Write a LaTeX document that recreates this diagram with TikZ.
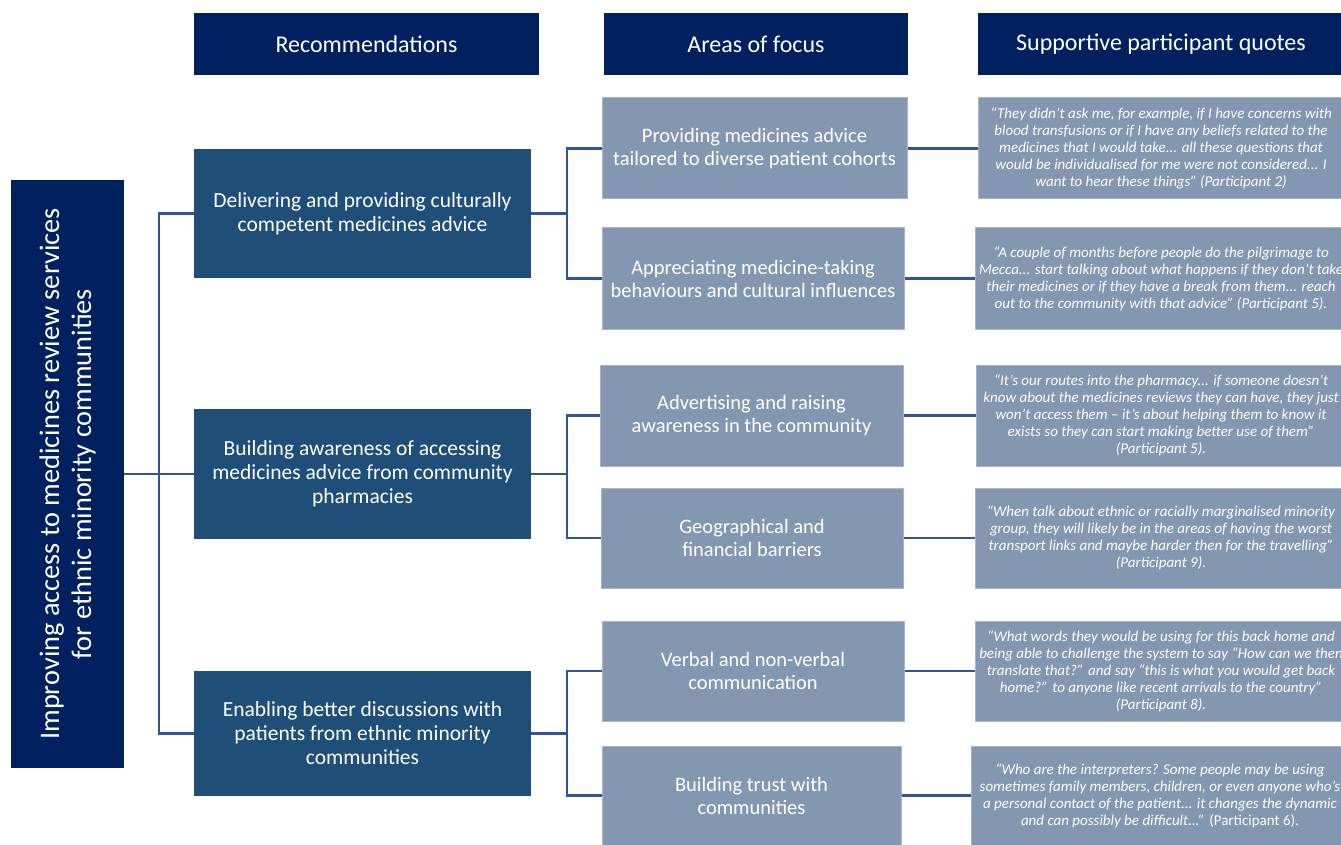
\documentclass[tikz,border=0pt]{standalone}
\usepackage{fontspec}
\setmainfont{Carlito}
\usetikzlibrary{calc}
\definecolor{navy}{HTML}{002060}
\definecolor{recblue}{HTML}{1F4E79}
\definecolor{areablue}{HTML}{8497B0}
\definecolor{edgeblue}{HTML}{A7B5CA}
\definecolor{linkblue}{HTML}{2F5597}
\tikzset{
  hdr/.style={fill=navy, text=white, minimum height=62pt, inner sep=0pt, font=\fontsize{24}{28}\selectfont},
  recbox/.style={fill=recblue, text=white, minimum width=337pt, inner sep=0pt, align=center, font=\fontsize{21.5}{24}\selectfont},
  areabox/.style={fill=areablue, draw=edgeblue, line width=1pt, text=white, inner sep=0pt, align=center, font=\fontsize{20.5}{23}\selectfont},
  quotebox/.style={fill=areablue, draw=edgeblue, line width=1pt, text=white, inner sep=0pt, align=center, font=\fontsize{15}{17}\selectfont\itshape},
  link/.style={draw=linkblue, line width=2.2pt},
}
\begin{document}
\begin{tikzpicture}[x=1pt,y=-1pt]
\useasboundingbox (0,0) rectangle (1341,845);
\clip (0,0) rectangle (1341,845);
% main
\node[fill=navy, text=white, rotate=90, minimum width=588pt, minimum height=113pt, inner sep=0pt, align=center, font=\fontsize{28.3}{32}\selectfont] (M) at (67.5,474) {Improving access to medicines review services\\for ethnic minority communities};
% headers
\node[hdr, minimum width=345pt] (H1) at (366.5,44) {Recommendations};
\node[hdr, minimum width=304pt] (H2) at (756,44) {Areas of focus};
\node[hdr, minimum width=366pt] (H3) at (1161,44) {Supportive participant quotes};
% recommendations
\node[recbox, minimum height=129pt] (R1) at (362.5,213.5) {Delivering and providing culturally\\competent medicines advice};
\node[recbox, minimum height=130pt] (R2) at (362.5,474) {Building awareness of accessing\\medicines advice from community\\pharmacies};
\node[recbox, minimum height=125pt] (R3) at (362.5,733.5) {Enabling better discussions with\\patients from ethnic minority\\communities};
% areas
\node[areabox, minimum width=305pt, minimum height=101pt] (A1) at (754.5,148.5) {Providing medicines advice\\tailored to diverse patient cohorts};
\node[areabox, minimum width=302pt, minimum height=101pt] (A2) at (753,278.5) {Appreciating medicine-taking\\behaviours and cultural influences};
\node[areabox, minimum width=303pt, minimum height=101pt] (A3) at (751.5,415.5) {Advertising and raising\\awareness in the community};
\node[areabox, minimum width=302pt, minimum height=100pt] (A4) at (752,538) {Geographical and\\financial barriers};
\node[areabox, minimum width=302pt, minimum height=100pt] (A5) at (753,671) {Verbal and non-verbal\\communication};
\node[areabox, minimum width=299pt, minimum height=99pt] (A6) at (751.5,795.5) {Building trust with\\communities};
% quotes
\node[quotebox, minimum width=366pt, minimum height=101pt] (Q1) at (1161,148.5) {“They didn’t ask me, for example, if I have concerns with\\blood transfusions or if I have any beliefs related to the\\medicines that I would take... all these questions that\\would be individualised for me were not considered... I\\want to hear these things” (Participant 2)};
\node[quotebox, minimum width=372pt, minimum height=101pt] (Q2) at (1161,278.5) {“A couple of months before people do the pilgrimage to\\Mecca... start talking about what happens if they don’t take\\their medicines or if they have a break from them... reach\\out to the community with that advice” (Participant 5).};
\node[quotebox, minimum width=370pt, minimum height=101pt] (Q3) at (1161,415.5) {“It’s our routes into the pharmacy... if someone doesn’t\\know about the medicines reviews they can have, they just\\won’t access them – it’s about helping them to know it\\exists so they can start making better use of them”\\(Participant 5).};
\node[quotebox, minimum width=372pt, minimum height=100pt] (Q4) at (1161,538) {“When talk about ethnic or racially marginalised minority\\group, they will likely be in the areas of having the worst\\transport links and maybe harder then for the travelling”\\(Participant 9).};
\node[quotebox, minimum width=372pt, minimum height=100pt] (Q5) at (1161,671) {“What words they would be using for this back home and\\being able to challenge the system to say “How can we then\\translate that?” and say “this is what you would get back\\home?” to anyone like recent arrivals to the country”\\(Participant 8).};
\node[quotebox, minimum width=378pt, minimum height=99pt] (Q6) at (1160,795.5) {“Who are the interpreters? Some people may be using\\sometimes family members, children, or even anyone who’s\\a personal contact of the patient... it changes the dynamic\\and can possibly be difficult...” \upshape(Participant 6).};
% connectors main -> recs
\coordinate (j0) at (159,474);
\draw[link] (M.south) -- (j0);
\draw[link] (R1.west) -| (j0) |- (R3.west);
\draw[link] (j0) -- (R2.west);
% recs -> areas
\coordinate (j1) at ($(R1.east)+(36,0)$);
\coordinate (j2) at ($(R2.east)+(36,0)$);
\coordinate (j3) at ($(R3.east)+(36,0)$);
\draw[link] (R1.east) -- (j1);
\draw[link] (A1.west) -| (j1) |- (A2.west);
\draw[link] (R2.east) -- (j2);
\draw[link] (A3.west) -| (j2) |- (A4.west);
\draw[link] (R3.east) -- (j3);
\draw[link] (A5.west) -| (j3) |- (A6.west);
% areas -> quotes
\draw[link] (A1.east) -- (Q1.west);
\draw[link] (A2.east) -- (Q2.west);
\draw[link] (A3.east) -- (Q3.west);
\draw[link] (A4.east) -- (Q4.west);
\draw[link] (A5.east) -- (Q5.west);
\draw[link] (A6.east) -- (Q6.west);
\end{tikzpicture}
\end{document}
